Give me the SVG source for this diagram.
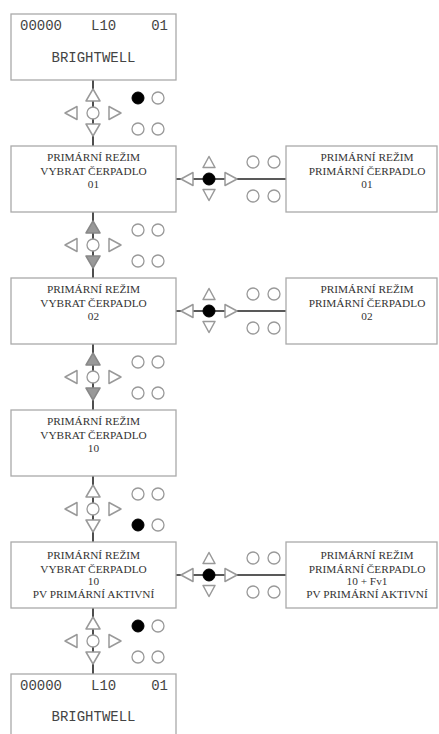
<svg xmlns="http://www.w3.org/2000/svg" width="439" height="734" viewBox="0 0 439 734">
<style>
.box{fill:#fff;stroke:#aaa;stroke-width:1.3}
.t{font-size:11.3px;fill:#333;text-anchor:middle}
.m{font-size:14px;fill:#444}
.ln{stroke:#222;stroke-width:1.6;fill:none}
.tri{fill:#fff;stroke:#999;stroke-width:1.5;stroke-linejoin:round}
.gtri{fill:#999;stroke:#888;stroke-width:1.5;stroke-linejoin:round}
.oc{fill:#fff;stroke:#999;stroke-width:1.3}
.fc{fill:#000;stroke:#000;stroke-width:1}
</style>
<defs>
<path id="up" d="M0,-6 L7,6 L-7,6 Z"/>
<path id="dn" d="M0,6 L7,-6 L-7,-6 Z"/>
<path id="lt" d="M-6,0 L6,-6.5 L6,6.5 Z"/>
<path id="rt" d="M6,0 L-6,-6.5 L-6,6.5 Z"/>
<path id="sup" d="M0,-5.5 L6,5.5 L-6,5.5 Z"/>
<path id="sdn" d="M0,5.5 L6,-5.5 L-6,-5.5 Z"/>
</defs>

<g id="connectors">
<line class="ln" x1="93" y1="80" x2="93" y2="146"/>
<line class="ln" x1="93" y1="212" x2="93" y2="278"/>
<line class="ln" x1="93" y1="344" x2="93" y2="410"/>
<line class="ln" x1="93" y1="476" x2="93" y2="542"/>
<line class="ln" x1="93" y1="608" x2="93" y2="674"/>
<line class="ln" x1="176" y1="179" x2="286" y2="179"/>
<line class="ln" x1="176" y1="311" x2="286" y2="311"/>
<line class="ln" x1="176" y1="575" x2="286" y2="575"/>

<g id="kv1">
<use href="#up" class="tri" x="93" y="95"/>
<circle class="oc" cx="93" cy="113" r="6"/>
<use href="#dn" class="tri" x="93" y="130"/>
<use href="#lt" class="tri" x="71" y="113"/>
<use href="#rt" class="tri" x="115" y="113"/>
<circle class="fc" cx="138" cy="98" r="6"/>
<circle class="oc" cx="158" cy="98" r="6"/>
<circle class="oc" cx="138" cy="129" r="6"/>
<circle class="oc" cx="158" cy="129" r="6"/>
</g>
<g id="kv2">
<use href="#up" class="gtri" x="93" y="227"/>
<circle class="oc" cx="93" cy="245" r="6"/>
<use href="#dn" class="gtri" x="93" y="262"/>
<use href="#lt" class="tri" x="71" y="245"/>
<use href="#rt" class="tri" x="115" y="245"/>
<circle class="oc" cx="138" cy="230" r="6"/>
<circle class="oc" cx="158" cy="230" r="6"/>
<circle class="oc" cx="138" cy="261" r="6"/>
<circle class="oc" cx="158" cy="261" r="6"/>
</g>
<g id="kv3">
<use href="#up" class="gtri" x="93" y="359"/>
<circle class="oc" cx="93" cy="377" r="6"/>
<use href="#dn" class="gtri" x="93" y="394"/>
<use href="#lt" class="tri" x="71" y="377"/>
<use href="#rt" class="tri" x="115" y="377"/>
<circle class="oc" cx="138" cy="362" r="6"/>
<circle class="oc" cx="158" cy="362" r="6"/>
<circle class="oc" cx="138" cy="393" r="6"/>
<circle class="oc" cx="158" cy="393" r="6"/>
</g>
<g id="kv4">
<use href="#up" class="tri" x="93" y="491"/>
<circle class="oc" cx="93" cy="509" r="6"/>
<use href="#dn" class="tri" x="93" y="526"/>
<use href="#lt" class="tri" x="71" y="509"/>
<use href="#rt" class="tri" x="115" y="509"/>
<circle class="oc" cx="138" cy="494" r="6"/>
<circle class="oc" cx="158" cy="494" r="6"/>
<circle class="fc" cx="138" cy="525" r="6"/>
<circle class="oc" cx="158" cy="525" r="6"/>
</g>
<g id="kv5">
<use href="#up" class="tri" x="93" y="623"/>
<circle class="oc" cx="93" cy="641" r="6"/>
<use href="#dn" class="tri" x="93" y="658"/>
<use href="#lt" class="tri" x="71" y="641"/>
<use href="#rt" class="tri" x="115" y="641"/>
<circle class="fc" cx="138" cy="626" r="6"/>
<circle class="oc" cx="158" cy="626" r="6"/>
<circle class="oc" cx="138" cy="657" r="6"/>
<circle class="oc" cx="158" cy="657" r="6"/>
</g>

<g id="kh1">
<use href="#lt" class="tri" x="187" y="179"/>
<circle class="fc" cx="209" cy="179" r="6"/>
<use href="#rt" class="tri" x="231" y="179"/>
<use href="#sup" class="tri" x="209" y="162"/>
<use href="#sdn" class="tri" x="209" y="195"/>
<circle class="oc" cx="253" cy="162" r="6"/>
<circle class="oc" cx="274" cy="162" r="6"/>
<circle class="oc" cx="253" cy="196" r="6"/>
<circle class="oc" cx="274" cy="196" r="6"/>
</g>
<g id="kh2">
<use href="#lt" class="tri" x="187" y="311"/>
<circle class="fc" cx="209" cy="311" r="6"/>
<use href="#rt" class="tri" x="231" y="311"/>
<use href="#sup" class="tri" x="209" y="294"/>
<use href="#sdn" class="tri" x="209" y="327"/>
<circle class="oc" cx="253" cy="294" r="6"/>
<circle class="oc" cx="274" cy="294" r="6"/>
<circle class="oc" cx="253" cy="328" r="6"/>
<circle class="oc" cx="274" cy="328" r="6"/>
</g>
<g id="kh3">
<use href="#lt" class="tri" x="187" y="575"/>
<circle class="fc" cx="209" cy="575" r="6"/>
<use href="#rt" class="tri" x="231" y="575"/>
<use href="#sup" class="tri" x="209" y="558"/>
<use href="#sdn" class="tri" x="209" y="591"/>
<circle class="oc" cx="253" cy="558" r="6"/>
<circle class="oc" cx="274" cy="558" r="6"/>
<circle class="oc" cx="253" cy="592" r="6"/>
<circle class="oc" cx="274" cy="592" r="6"/>
</g>
</g>

<g font-family="'Liberation Serif','DejaVu Serif',serif">
<g id="n1" font-family="'Liberation Mono','DejaVu Sans Mono',monospace">
<rect class="box" x="11" y="14" width="165" height="66"/>
<text class="m" x="20" y="30">00000</text>
<text class="m" x="91" y="30">L10</text>
<text class="m" x="168" y="30" text-anchor="end">01</text>
<text class="m" x="93.5" y="62" text-anchor="middle">BRIGHTWELL</text>
</g>
<g id="n2">
<rect class="box" x="11" y="146" width="165" height="66"/>
<text class="t" x="93.5" y="161">PRIMÁRNÍ REŽIM</text>
<text class="t" x="93.5" y="175">VYBRAT ČERPADLO</text>
<text class="t" x="93.5" y="188">01</text>
</g>
<g id="n2r">
<rect class="box" x="286" y="146" width="151" height="66"/>
<text class="t" x="367" y="161">PRIMÁRNÍ REŽIM</text>
<text class="t" x="367" y="175">PRIMÁRNÍ ČERPADLO</text>
<text class="t" x="367" y="188">01</text>
</g>
<g id="n3">
<rect class="box" x="11" y="278" width="165" height="66"/>
<text class="t" x="93.5" y="293">PRIMÁRNÍ REŽIM</text>
<text class="t" x="93.5" y="307">VYBRAT ČERPADLO</text>
<text class="t" x="93.5" y="320">02</text>
</g>
<g id="n3r">
<rect class="box" x="286" y="278" width="151" height="66"/>
<text class="t" x="367" y="293">PRIMÁRNÍ REŽIM</text>
<text class="t" x="367" y="307">PRIMÁRNÍ ČERPADLO</text>
<text class="t" x="367" y="320">02</text>
</g>
<g id="n4">
<rect class="box" x="11" y="410" width="165" height="66"/>
<text class="t" x="93.5" y="425">PRIMÁRNÍ REŽIM</text>
<text class="t" x="93.5" y="439">VYBRAT ČERPADLO</text>
<text class="t" x="93.5" y="452">10</text>
</g>
<g id="n5">
<rect class="box" x="11" y="542" width="165" height="66"/>
<text class="t" x="93.5" y="559">PRIMÁRNÍ REŽIM</text>
<text class="t" x="93.5" y="572.5">VYBRAT ČERPADLO</text>
<text class="t" x="93.5" y="585">10</text>
<text class="t" x="93.5" y="598">PV PRIMÁRNÍ AKTIVNÍ</text>
</g>
<g id="n5r">
<rect class="box" x="286" y="542" width="151" height="66"/>
<text class="t" x="367" y="559">PRIMÁRNÍ REŽIM</text>
<text class="t" x="367" y="572.5">PRIMÁRNÍ ČERPADLO</text>
<text class="t" x="367" y="585">10 + Fv1</text>
<text class="t" x="367" y="598">PV PRIMÁRNÍ AKTIVNÍ</text>
</g>
<g id="n6" font-family="'Liberation Mono','DejaVu Sans Mono',monospace">
<rect class="box" x="11" y="674" width="165" height="66"/>
<text class="m" x="20" y="690">00000</text>
<text class="m" x="91" y="690">L10</text>
<text class="m" x="168" y="690" text-anchor="end">01</text>
<text class="m" x="93.5" y="721" text-anchor="middle">BRIGHTWELL</text>
</g>
</g>
</svg>
